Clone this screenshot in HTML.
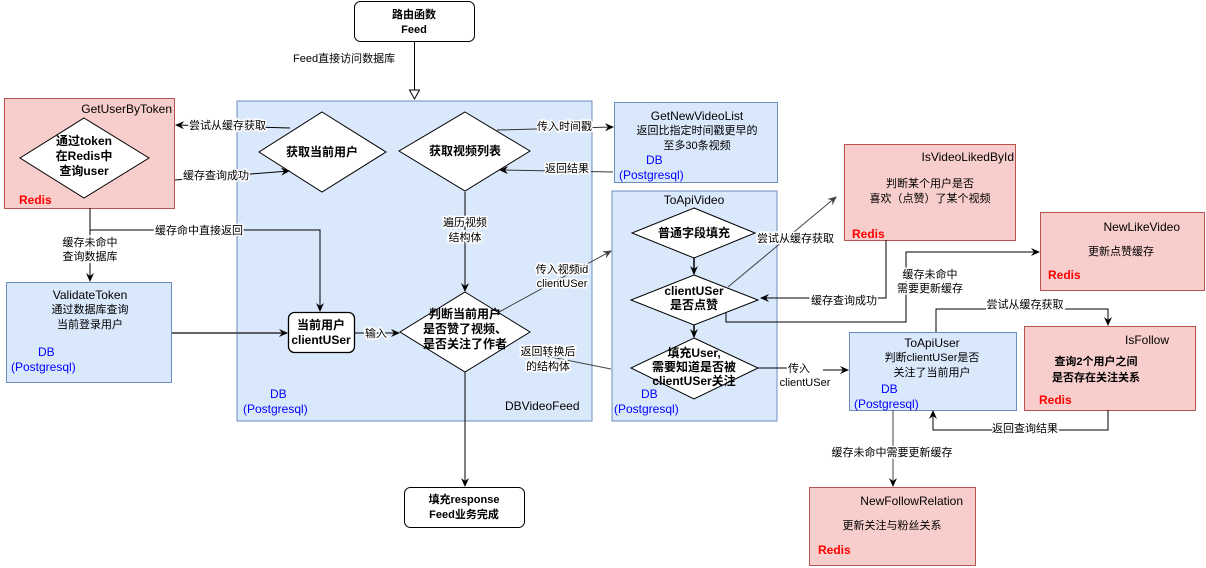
<!DOCTYPE html>
<html><head><meta charset="utf-8"><style>
html,body{margin:0;padding:0;background:#fff;}
svg{display:block;font-family:"Liberation Sans","Noto Sans CJK SC",sans-serif;}
text{font-size:11px;fill:#000;}
.b{font-weight:bold;font-size:12px;}
.red{fill:#ff0000;font-size:12px;font-weight:bold;}
.blue{fill:#0000ff;font-size:12px;}
.lbl{paint-order:stroke;stroke:#fff;stroke-width:3px;}
</style></head><body>
<svg width="1206" height="568" viewBox="0 0 1206 568" xmlns="http://www.w3.org/2000/svg">
<defs>
<marker id="a" markerWidth="10" markerHeight="10" refX="8" refY="5" orient="auto" markerUnits="userSpaceOnUse"><path d="M0,1 L9,5 L0,9 L3,5 z" fill="#000"/></marker>
<marker id="g" markerWidth="10" markerHeight="10" refX="8" refY="5" orient="auto" markerUnits="userSpaceOnUse"><path d="M0,1 L9,5 L0,9 L3,5 z" fill="#444"/></marker>
</defs>

<rect x="237" y="101" width="355" height="320" fill="#dae8fc" stroke="#6c8ebf"/>
<rect x="612" y="191" width="165" height="230" fill="#dae8fc" stroke="#6c8ebf"/>
<rect x="4.5" y="98.5" width="170" height="110" fill="#f8cecc" stroke="#b85450"/>
<rect x="6.5" y="282.5" width="165" height="100" fill="#dae8fc" stroke="#6c8ebf"/>
<rect x="614.5" y="102.5" width="163" height="80" fill="#dae8fc" stroke="#6c8ebf"/>
<rect x="844.5" y="144.5" width="171" height="96" fill="#f8cecc" stroke="#b85450"/>
<rect x="1040.5" y="212.5" width="164" height="78" fill="#f8cecc" stroke="#b85450"/>
<rect x="849.5" y="332.5" width="167" height="78" fill="#dae8fc" stroke="#6c8ebf"/>
<rect x="1024.5" y="326.5" width="171" height="84" fill="#f8cecc" stroke="#b85450"/>
<rect x="809.5" y="487.5" width="166" height="78" fill="#f8cecc" stroke="#b85450"/>

<rect x="354.5" y="1.5" width="120" height="40" rx="6" fill="#fff" stroke="#000"/>
<text x="414" y="18" text-anchor="middle" class="b" style="font-size:11px">路由函数</text>
<text x="414" y="33" text-anchor="middle" class="b" style="font-size:11px">Feed</text>
<line x1="414.5" y1="41" x2="414.5" y2="90" stroke="#000"/>
<path d="M409.5,90 L419.5,90 L414.5,99 z" fill="#fff" stroke="#000"/>
<text x="293" y="62">Feed直接访问数据库</text>

<path d="M84,118 L149,158 L84,198 L20,158 z" fill="#fff" stroke="#000"/>
<text x="84" y="145" text-anchor="middle" class="b">通过token</text>
<text x="84" y="160" text-anchor="middle" class="b">在Redis中</text>
<text x="84" y="175" text-anchor="middle" class="b">查询user</text>

<path d="M322,112 L386,152 L322,192 L259,152 z" fill="#fff" stroke="#000"/>
<text x="322" y="156" text-anchor="middle" class="b">获取当前用户</text>
<path d="M465,112 L530,151 L465,191 L399,151 z" fill="#fff" stroke="#000"/>
<text x="465" y="155" text-anchor="middle" class="b">获取视频列表</text>

<path d="M465,292 L530,332 L465,372 L400,332 z" fill="#fff" stroke="#000"/>
<text x="465" y="318" text-anchor="middle" class="b">判断当前用户</text>
<text x="465" y="333" text-anchor="middle" class="b">是否赞了视频、</text>
<text x="465" y="348" text-anchor="middle" class="b">是否关注了作者</text>

<rect x="288.5" y="312.5" width="66" height="40" rx="6" fill="#fff" stroke="#000" stroke-width="1.3"/>
<text x="321" y="329" text-anchor="middle" class="b">当前用户</text>
<text x="321" y="344" text-anchor="middle" class="b">clientUSer</text>

<rect x="404.5" y="487.5" width="120" height="40" rx="6" fill="#fff" stroke="#000"/>
<text x="464" y="503" text-anchor="middle" class="b" style="font-size:11px">填充response</text>
<text x="464" y="518" text-anchor="middle" class="b" style="font-size:11px">Feed业务完成</text>

<path d="M694,208 L755,233 L694,258 L632,233 z" fill="#fff" stroke="#000"/>
<text x="694" y="237" text-anchor="middle" class="b">普通字段填充</text>
<path d="M694,275 L758,300 L694,325 L631,300 z" fill="#fff" stroke="#000"/>
<text x="694" y="295" text-anchor="middle" class="b">clientUSer</text>
<text x="694" y="309" text-anchor="middle" class="b">是否点赞</text>
<path d="M694,338 L758,368 L694,399 L631,368 z" fill="#fff" stroke="#000"/>
<text x="694" y="357" text-anchor="middle" class="b">填充User,</text>
<text x="694" y="371" text-anchor="middle" class="b">需要知道是否被</text>
<text x="694" y="385" text-anchor="middle" class="b">clientUSer关注</text>

<text x="172" y="113" text-anchor="end" style="font-size:12px">GetUserByToken</text>
<text x="19" y="204" class="red">Redis</text>
<text x="90" y="299" text-anchor="middle" style="font-size:12px">ValidateToken</text>
<text x="90" y="313" text-anchor="middle">通过数据库查询</text>
<text x="90" y="328" text-anchor="middle">当前登录用户</text>
<text x="38" y="356" class="blue">DB</text>
<text x="11" y="371" class="blue">(Postgresql)</text>
<text x="270" y="398" class="blue">DB</text>
<text x="243" y="413" class="blue">(Postgresql)</text>
<text x="505" y="410" style="font-size:12px">DBVideoFeed</text>

<text x="697" y="120" text-anchor="middle" style="font-size:12px">GetNewVideoList</text>
<text x="697" y="134" text-anchor="middle">返回比指定时间戳更早的</text>
<text x="697" y="149" text-anchor="middle">至多30条视频</text>
<text x="646" y="164" class="blue">DB</text>
<text x="619" y="179" class="blue">(Postgresql)</text>

<text x="694" y="204" text-anchor="middle" style="font-size:12px">ToApiVideo</text>
<text x="641" y="398" class="blue">DB</text>
<text x="614" y="413" class="blue">(Postgresql)</text>

<text x="1014" y="161" text-anchor="end" style="font-size:12px">IsVideoLikedById</text>
<text x="930" y="187" text-anchor="middle">判断某个用户是否</text>
<text x="930" y="202" text-anchor="middle">喜欢（点赞）了某个视频</text>
<text x="852" y="238" class="red">Redis</text>

<text x="1180" y="231" text-anchor="end" style="font-size:12px">NewLikeVideo</text>
<text x="1121" y="255" text-anchor="middle">更新点赞缓存</text>
<text x="1048" y="279" class="red">Redis</text>

<text x="932" y="347" text-anchor="middle" style="font-size:12px">ToApiUser</text>
<text x="932" y="361" text-anchor="middle">判断clientUSer是否</text>
<text x="932" y="376" text-anchor="middle">关注了当前用户</text>
<text x="881" y="393" class="blue">DB</text>
<text x="854" y="408" class="blue">(Postgresql)</text>

<text x="1169" y="344" text-anchor="end" style="font-size:12px">IsFollow</text>
<text x="1096" y="365" text-anchor="middle" class="b" style="font-size:11px">查询2个用户之间</text>
<text x="1096" y="381" text-anchor="middle" class="b" style="font-size:11px">是否存在关注关系</text>
<text x="1039" y="404" class="red">Redis</text>

<text x="963" y="505" text-anchor="end" style="font-size:12px">NewFollowRelation</text>
<text x="892" y="529" text-anchor="middle">更新关注与粉丝关系</text>
<text x="818" y="554" class="red">Redis</text>

<g fill="none" stroke="#000">
<line x1="290" y1="128" x2="176" y2="125" marker-end="url(#a)"/>
<line x1="175" y1="180" x2="289" y2="171" marker-end="url(#a)"/>
<polyline points="90,208 90,281" marker-end="url(#a)"/>
<polyline points="90,230 320,230 320,311" marker-end="url(#a)"/>
<line x1="172" y1="333" x2="287" y2="333" stroke="#333" stroke-width="1.5" marker-end="url(#a)"/>
<line x1="354" y1="333" x2="399" y2="333" marker-end="url(#a)"/>
<line x1="465" y1="192" x2="465" y2="291" marker-end="url(#a)"/>
<line x1="465" y1="372" x2="465" y2="486" marker-end="url(#a)"/>
<line x1="497" y1="130" x2="613" y2="127" stroke="#333" marker-end="url(#a)"/>
<line x1="613" y1="172" x2="500" y2="170" stroke="#333" marker-end="url(#a)"/>
<line x1="499" y1="312" x2="611" y2="251" stroke="#444" marker-end="url(#g)"/>
<line x1="611" y1="369" x2="521" y2="351" stroke="#444" marker-end="url(#g)"/>
<line x1="694" y1="258" x2="694" y2="274" stroke-width="1.5" marker-end="url(#a)"/>
<line x1="694" y1="325" x2="694" y2="337" stroke-width="1.5" marker-end="url(#a)"/>
<line x1="728" y1="287" x2="836" y2="197" stroke="#444" marker-end="url(#g)"/>
<polyline points="886,240 886,298 761,298" marker-end="url(#a)"/>
<polyline points="726,312 726,322 906,322 906,276 906,252 1039,252" marker-end="url(#a)"/>
<polyline points="758,368 805,368" />
<line x1="823" y1="370" x2="848" y2="370" marker-end="url(#a)"/>
<polyline points="936,332 936,309 1108,309 1108,325" marker-end="url(#a)"/>
<polyline points="1108,410 1108,430 933,430 933,411" marker-end="url(#a)"/>
<line x1="893" y1="410" x2="893" y2="486" stroke="#444" marker-end="url(#a)"/>
</g>

<text x="189" y="129" class="lbl">尝试从缓存获取</text>
<text x="183" y="179" class="lbl">缓存查询成功</text>
<text x="155" y="234" class="lbl">缓存命中直接返回</text>
<text x="90" y="246" text-anchor="middle" class="lbl">缓存未命中</text>
<text x="90" y="260" text-anchor="middle" class="lbl">查询数据库</text>
<text x="376" y="337" text-anchor="middle" class="lbl">输入</text>
<text x="465" y="226" text-anchor="middle" class="lbl">遍历视频</text>
<text x="465" y="241" text-anchor="middle" class="lbl">结构体</text>
<text x="537" y="130" class="lbl">传入时间戳</text>
<text x="545" y="172" class="lbl">返回结果</text>
<text x="562" y="273" text-anchor="middle" class="lbl">传入视频id</text>
<text x="562" y="287" text-anchor="middle" class="lbl">clientUSer</text>
<text x="548" y="355" text-anchor="middle" class="lbl">返回转换后</text>
<text x="548" y="370" text-anchor="middle" class="lbl">的结构体</text>
<text x="757" y="242" class="lbl">尝试从缓存获取</text>
<text x="811" y="304" class="lbl">缓存查询成功</text>
<text x="930" y="278" text-anchor="middle" class="lbl">缓存未命中</text>
<text x="930" y="292" text-anchor="middle" class="lbl">需要更新缓存</text>
<text x="799" y="372" text-anchor="middle" class="lbl">传入</text>
<text x="805" y="386" text-anchor="middle" class="lbl">clientUSer</text>
<text x="1025" y="308" text-anchor="middle" class="lbl">尝试从缓存获取</text>
<text x="1025" y="432" text-anchor="middle" class="lbl">返回查询结果</text>
<text x="892" y="456" text-anchor="middle" class="lbl">缓存未命中需要更新缓存</text>
</svg>
</body></html>
